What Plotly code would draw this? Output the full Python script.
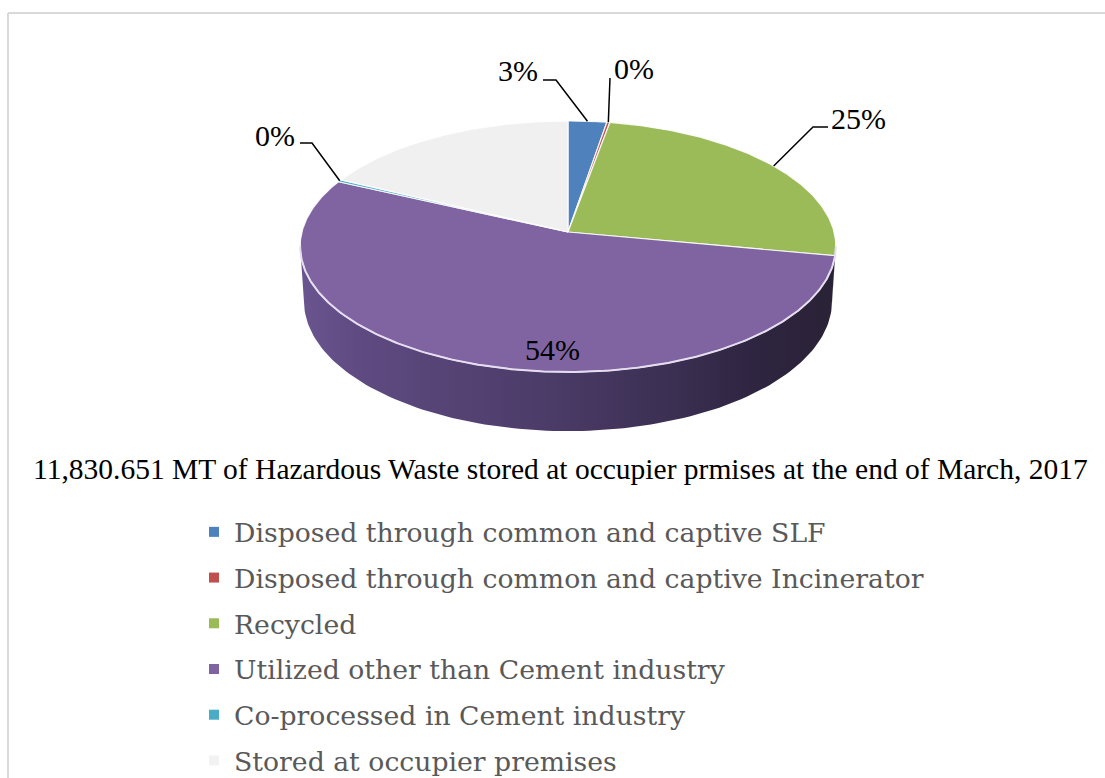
import numpy as np
import plotly.graph_objects as go

# ---------------- data ----------------
categories = [
    "Disposed through common and captive SLF",
    "Disposed through common and captive Incinerator",
    "Recycled",
    "Utilized other than Cement industry",
    "Co-processed in Cement industry",
    "Stored at occupier premises",
]
values = [2.6, 0.2, 25.2, 54.0, 0.3, 17.7]          # percent shares
label_text = ["3%", "0%", "25%", "54%", "0%", ""]   # data labels as printed
colors = ["#4f81bd", "#c0504d", "#9bbb59", "#8064a2", "#4bacc6", "#f0f0f0"]
caption = "11,830.651 MT of Hazardous Waste stored at occupier prmises at the end of March, 2017"

# ---------------- geometry of the 3-D pie (layout only) ----------------
W, H = 1105, 778
CX, CY = 568.0, 232.0          # projected centre of the pie top
F = 2046.0                     # focal length
DIST = 7.69                    # camera distance (pie radius = 1)
ELEV = np.radians(27.75)       # viewing elevation
DEPTH = 0.234                  # pie thickness
S, C = np.sin(ELEV), np.cos(ELEV)


def proj(t_deg, r=1.0, z=0.0):
    t = np.radians(np.asarray(t_deg, dtype=float))
    x = r * np.sin(t)
    y = r * np.cos(t)
    Z = DIST + y * C - z * S
    return CX + F * x / Z, CY - F * (y * S + z * C) / Z


def darken(hexcol, k):
    hexcol = hexcol.lstrip("#")
    r, g, b = (int(hexcol[i:i + 2], 16) for i in (0, 2, 4))
    return "rgb(%d,%d,%d)" % (r * k, g * k, b * k)


total = float(sum(values))
bounds = np.concatenate([[0.0], np.cumsum(values)]) / total * 360.0

# visible part of the outer wall (between the silhouette tangents)
t_vis0 = np.degrees(np.arccos(-C / DIST))
t_vis1 = 360.0 - t_vis0

fig = go.Figure()

# ---- side walls ----
for i, col in enumerate(colors):
    a0, a1 = max(bounds[i], t_vis0), min(bounds[i + 1], t_vis1)
    if a1 <= a0:
        continue
    tt = np.linspace(a0, a1, 120)
    xt, yt = proj(tt)
    xb, yb = proj(tt[::-1], z=-DEPTH)
    xs = np.concatenate([xt, xb, xt[:1]])
    ys = np.concatenate([yt, yb, yt[:1]])
    if i == 3:
        cs = [[0.0, "#6a5590"], [0.12, "#5e4a80"], [0.45, "#4c3c69"],
              [0.7, "#3b2f52"], [0.85, "#2e2540"], [1.0, "#2a2236"]]
    else:
        cs = [[0.0, darken(col, 0.75)], [1.0, darken(col, 0.45)]]
    fig.add_trace(go.Scatter(
        x=xs, y=ys, mode="lines", fill="toself",
        line=dict(width=0, color="rgba(0,0,0,0)"),
        fillgradient=dict(type="horizontal", colorscale=cs),
        hoverinfo="skip", showlegend=False))

# ---- top faces ----
for i, col in enumerate(colors):
    tt = np.linspace(bounds[i], bounds[i + 1], max(3, int((bounds[i + 1] - bounds[i]) * 2)))
    xa, ya = proj(tt)
    xs = np.concatenate([[CX], xa, [CX]])
    ys = np.concatenate([[CY], ya, [CY]])
    fig.add_trace(go.Scatter(
        x=xs, y=ys, mode="lines", fill="toself", fillcolor=col,
        line=dict(width=1.2, color="rgba(255,255,255,0.85)"),
        hoverinfo="text", text=categories[i], showlegend=False))

# ---- light rim where top meets the side ----
tt = np.linspace(t_vis0, t_vis1, 300)
xr, yr = proj(tt)
fig.add_trace(go.Scatter(x=xr, y=yr, mode="lines",
                         line=dict(width=2, color="#e6def0"),
                         hoverinfo="skip", showlegend=False))

# ---- data labels with leader lines ----
# label text centre and elbow point(s) of each leader line (layout)
label_pos = {0: (518, 70), 1: (634, 68), 2: (858, 118), 3: (552, 349), 4: (275, 135)}
elbows = {0: [(543, 80), (556, 80)], 1: [(610, 78)], 2: [(828, 127), (813, 127)],
          4: [(300, 143), (312, 143)]}
for i, txt in enumerate(label_text):
    if not txt:
        continue
    lx, ly = label_pos[i]
    fig.add_annotation(x=lx, y=ly, text=txt, showarrow=False, xanchor="center", yanchor="middle",
                       font=dict(family="Liberation Serif", size=30, color="#000000"))
    if i in elbows:
        mid = (bounds[i] + bounds[i + 1]) / 2.0
        ex, ey = proj([mid])
        pts = elbows[i] + [(float(ex[0]), float(ey[0]))]
        fig.add_trace(go.Scatter(x=[p[0] for p in pts], y=[p[1] for p in pts], mode="lines",
                                 line=dict(width=1.5, color="#000000"),
                                 hoverinfo="skip", showlegend=False))

# ---- caption ----
fig.add_annotation(x=560, y=469, text=caption, showarrow=False, xanchor="center", yanchor="middle",
                   font=dict(family="Liberation Serif", size=29.5, color="#000000"))

# ---- legend entries ----
for i, name in enumerate(categories):
    fig.add_trace(go.Scatter(x=[None], y=[None], mode="markers", name=name,
                             legendgroup="g%d" % i,
                             marker=dict(symbol="square", size=10, color=colors[i] if i != 5 else "#f2f2f2")))

# ---- frame ----
fig.add_shape(type="line", xref="paper", yref="paper", x0=8 / W, x1=1.0, y0=1 - 13 / H, y1=1 - 13 / H,
              line=dict(color="#d9d9d9", width=2))
fig.add_shape(type="line", xref="paper", yref="paper", x0=8 / W, x1=8 / W, y0=0, y1=1 - 13 / H,
              line=dict(color="#d9d9d9", width=2))

fig.update_layout(
    width=W, height=H,
    margin=dict(l=0, r=0, t=0, b=0, autoexpand=False),
    paper_bgcolor="white", plot_bgcolor="white",
    xaxis=dict(range=[0, W], visible=False, fixedrange=True),
    yaxis=dict(range=[H, 0], visible=False, fixedrange=True),
    showlegend=True,
    legend=dict(x=194 / W, y=1 - 508 / H, xanchor="left", yanchor="top",
                font=dict(family="DejaVu Serif", size=26.7, color="#595959"),
                tracegroupgap=8, itemsizing="trace", bgcolor="rgba(0,0,0,0)"),
)

fig.write_html("out.html", config={"displayModeBar": False},
               post_script="document.body.style.margin='0';document.body.style.overflow='hidden';")
